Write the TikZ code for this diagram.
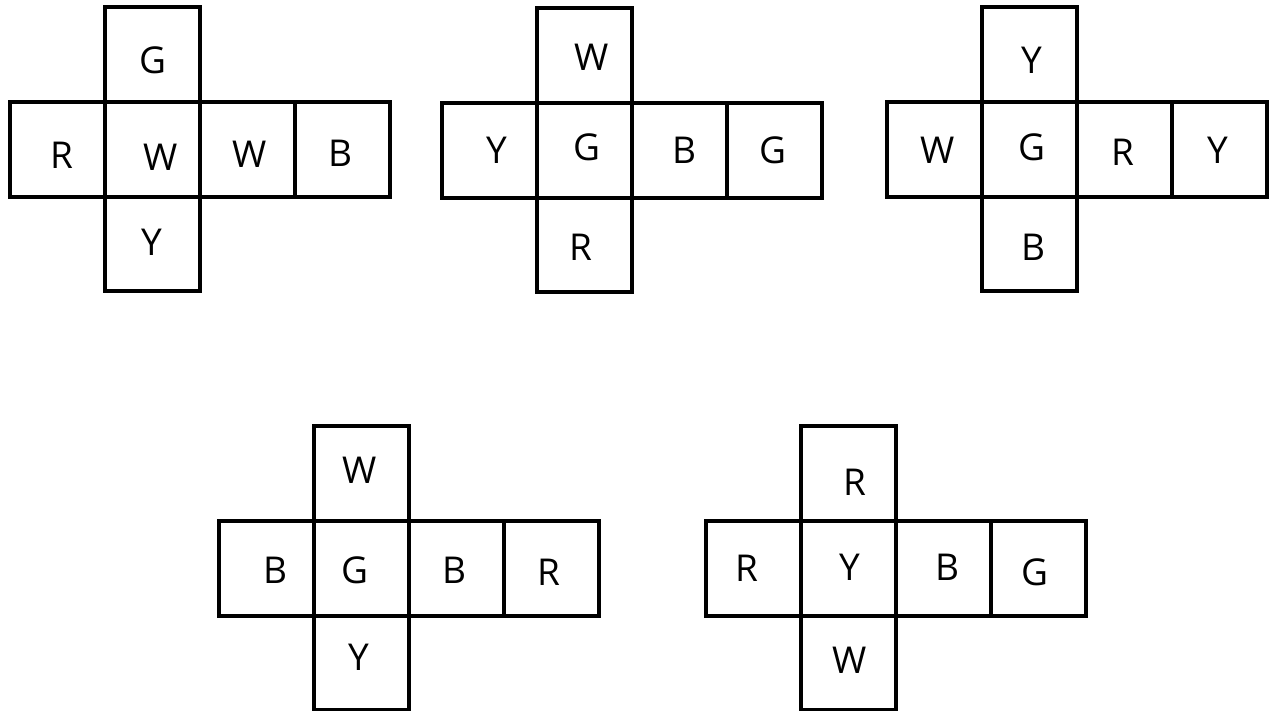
\documentclass[tikz,border=0pt]{standalone}
\usepackage{fontspec}
\setmainfont{Open Sans}
\begin{document}
\begin{tikzpicture}[x=1pt,y=-1pt,
  netline/.style={draw=black,line width=3.4pt,line join=miter},
  face/.style={inner sep=0pt,font=\fontsize{37}{37}\selectfont}]
\useasboundingbox (0,0) rectangle (1275,710);
% nets: row left x, top y of upper square
\foreach \x/\y in {10/7, 442/8, 887/7, 219/426, 706/426}{
  \draw[netline] (\x+95,\y) rectangle (\x+190,\y+284);
  \draw[netline] (\x,\y+95) rectangle (\x+380,\y+190);
  \draw[netline] (\x+285,\y+95) -- (\x+285,\y+190);
}
% net 1
\node[face] (a1) at (153,60) {G};
\node[face] (a2) at (62,155) {R};
\node[face] (a3) at (161,157) {W};
\node[face] (a4) at (250,154) {W};
\node[face] (a5) at (340,153) {B};
\node[face] (a6) at (152,242) {Y};
% net 2
\node[face] (b1) at (592,57) {W};
\node[face] (b2) at (497,150) {Y};
\node[face] (b3) at (587,147) {G};
\node[face] (b4) at (684,150) {B};
\node[face] (b5) at (773,150) {G};
\node[face] (b6) at (581,247) {R};
% net 3
\node[face] (c1) at (1032,60) {Y};
\node[face] (c2) at (938,150) {W};
\node[face] (c3) at (1032,147) {G};
\node[face] (c4) at (1123,152) {R};
\node[face] (c5) at (1218,150) {Y};
\node[face] (c6) at (1033,247) {B};
% net 4
\node[face] (d1) at (360,470) {W};
\node[face] (d2) at (275,570) {B};
\node[face] (d3) at (355,570) {G};
\node[face] (d4) at (454,570) {B};
\node[face] (d5) at (549,572) {R};
\node[face] (d6) at (359,657) {Y};
% net 5
\node[face] (e1) at (855,482) {R};
\node[face] (e2) at (747,568) {R};
\node[face] (e3) at (850,567) {Y};
\node[face] (e4) at (947,567) {B};
\node[face] (e5) at (1035,572) {G};
\node[face] (e6) at (850,660) {W};
\end{tikzpicture}
\end{document}
